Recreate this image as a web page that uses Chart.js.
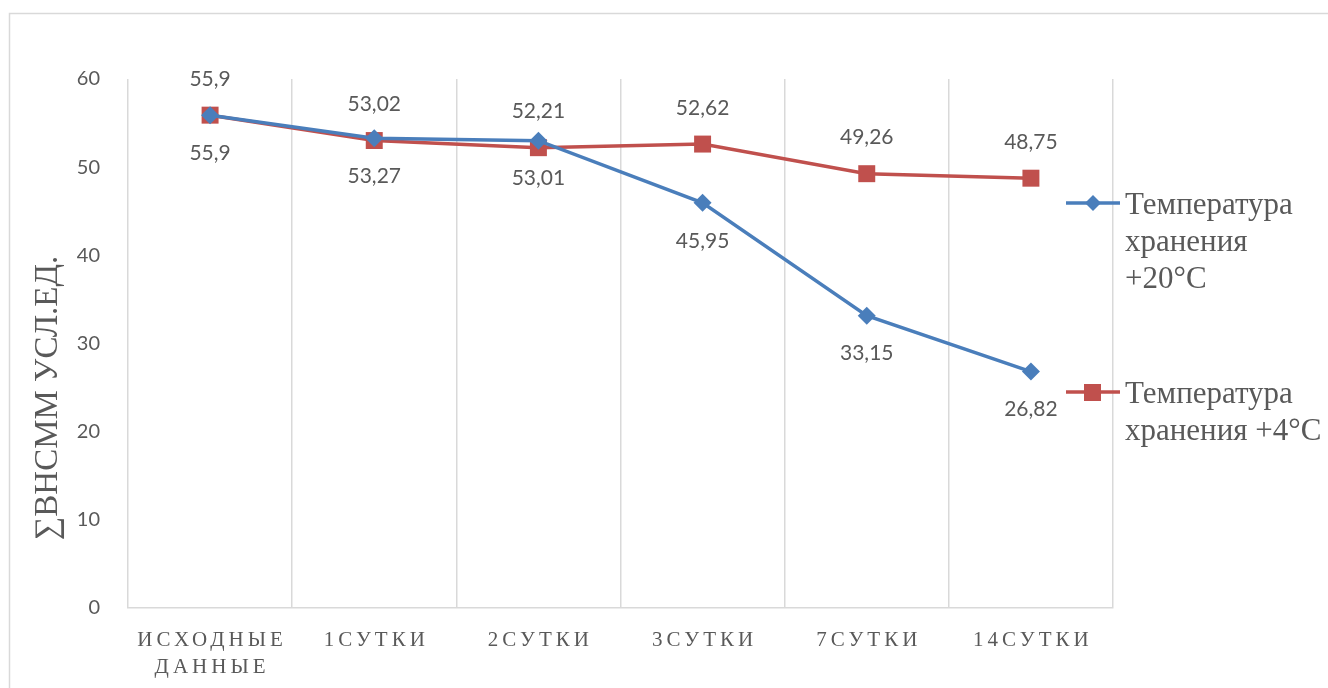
<!DOCTYPE html>
<html>
<head>
<meta charset="utf-8">
<script src="https://cdn.jsdelivr.net/npm/chart.js@4.4.0/dist/chart.umd.min.js"></script>
<style>
  body { margin: 0; background: #fff; }
  #wrap { width: 1328px; height: 688px; position: relative; }
</style>
</head>
<body>
<div id="wrap"><canvas id="grafico"></canvas></div>
<script>
// категории по оси X
const categories = [['ИСХОДНЫЕ', 'ДАННЫЕ'], '1СУТКИ', '2СУТКИ', '3СУТКИ', '7СУТКИ', '14СУТКИ'];

// названия серий (по строкам, как в легенде)
const seriesNames = [
    ['Температура', 'хранения', '+20°C'],
    ['Температура', 'хранения +4°C']
];

// значения ∑ВНСММ
const temp20 = [55.9, 53.27, 53.01, 45.95, 33.15, 26.82];
const temp4 = [55.9, 53.02, 52.21, 52.62, 49.26, 48.75];

// деления оси Y
const yTicks = [0, 10, 20, 30, 40, 50, 60];
const yTitle = '∑ВНСММ УСЛ.ЕД.';

const gray = '#595959';
const gridColor = '#d9d9d9';

function fmt(v) {
    return String(v).replace('.', ',');
}

// рамка вокруг всей диаграммы
const framePlugin = {
    id: 'frame',
    beforeDraw(chart) {
        const ctx = chart.ctx;
        ctx.save();
        ctx.strokeStyle = gridColor;
        ctx.lineWidth = 1.5;
        ctx.strokeRect(9.5, 13.5, 1330, 700);
        ctx.restore();
    }
};

// подписи оси X с разрядкой + заголовок оси Y
const axisTextPlugin = {
    id: 'axisText',
    afterDraw(chart) {
        const ctx = chart.ctx;
        const sx = chart.scales.x;
        ctx.save();
        ctx.font = '21px "Liberation Serif"';
        ctx.fillStyle = gray;
        ctx.textAlign = 'center';
        ctx.textBaseline = 'middle';
        ctx.letterSpacing = '4px';
        categories.forEach((c, i) => {
            const lines = Array.isArray(c) ? c : [c];
            const x = sx.getPixelForValue(i) + 2;
            lines.forEach((t, j) => ctx.fillText(t, x, sx.top + 32 + j * 27));
        });
        ctx.restore();

        // заголовок оси Y (в оригинале смещён ниже центра)
        ctx.save();
        ctx.translate(48, 398);
        ctx.rotate(-Math.PI / 2);
        ctx.font = '33px "Liberation Serif"';
        ctx.fillStyle = gray;
        ctx.textAlign = 'center';
        ctx.textBaseline = 'middle';
        ctx.fillText(yTitle, 0, 0);
        ctx.restore();
    }
};

// подписи данных: синяя серия снизу, красная сверху
const dataLabelsPlugin = {
    id: 'dataLabels',
    afterDatasetsDraw(chart) {
        const ctx = chart.ctx;
        ctx.save();
        ctx.font = '21px Lato';
        ctx.fillStyle = gray;
        ctx.textAlign = 'center';
        ctx.textBaseline = 'middle';
        chart.data.datasets.forEach((ds, di) => {
            const meta = chart.getDatasetMeta(di);
            meta.data.forEach((pt, i) => {
                const dy = di === 0 ? 38 : -36;
                ctx.fillText(fmt(ds.data[i]), pt.x, pt.y + dy);
            });
        });
        ctx.restore();
    }
};

// легенда справа с переносом строк
const legendPlugin = {
    id: 'sideLegend',
    afterDraw(chart) {
        const ctx = chart.ctx;
        const tops = [203, 392];
        ctx.save();
        chart.data.datasets.forEach((ds, di) => {
            const y = tops[di];
            ctx.strokeStyle = ds.borderColor;
            ctx.lineWidth = 3.5;
            ctx.beginPath();
            ctx.moveTo(1066, y);
            ctx.lineTo(1120, y);
            ctx.stroke();
            ctx.fillStyle = ds.borderColor;
            ctx.beginPath();
            if (ds.pointStyle === 'rectRot') {
                ctx.moveTo(1093, y - 8);
                ctx.lineTo(1101, y);
                ctx.lineTo(1093, y + 8);
                ctx.lineTo(1085, y);
                ctx.closePath();
            } else {
                ctx.rect(1084, y - 8, 17, 17);
            }
            ctx.fill();
            ctx.font = '31px "Liberation Serif"';
            ctx.fillStyle = gray;
            ctx.textAlign = 'left';
            ctx.textBaseline = 'middle';
            seriesNames[di].forEach((t, j) => ctx.fillText(t, 1125, y + 3 + j * 37));
        });
        ctx.restore();
    }
};

const ctx = document.getElementById('grafico').getContext('2d');

new Chart(ctx, {
    type: 'line',
    data: {
        labels: categories,
        datasets: [{
            label: seriesNames[0].join(' '),
            data: temp20,
            borderColor: '#4A7EBB',
            backgroundColor: '#4A7EBB',
            borderWidth: 3.5,
            pointStyle: 'rectRot',
            pointRadius: 9,
            pointBorderWidth: 0,
            tension: 0
        }, {
            label: seriesNames[1].join(' '),
            data: temp4,
            borderColor: '#C0504D',
            backgroundColor: '#C0504D',
            borderWidth: 3.5,
            pointStyle: 'rect',
            pointRadius: 12,
            pointBorderWidth: 0,
            tension: 0
        }]
    },
    options: {
        responsive: true,
        maintainAspectRatio: false,
        animation: false,
        layout: { padding: { top: 79, right: 215, bottom: 0, left: 0 } },
        plugins: {
            legend: { display: false },
            tooltip: { enabled: false }
        },
        scales: {
            x: {
                type: 'category',
                offset: true,
                grid: { offset: true, color: gridColor, lineWidth: 1.5, drawTicks: false },
                border: { color: gridColor, width: 1.5 },
                ticks: { display: false },
                afterFit: s => { s.height = 80; }
            },
            y: {
                min: 0,
                max: 60,
                afterBuildTicks: s => { s.ticks = yTicks.map(v => ({ value: v })); },
                grid: { display: false },
                border: { display: false },
                ticks: { color: gray, font: { family: 'Lato', size: 20 }, padding: 20 },
                afterFit: s => { s.width = 128; }
            }
        }
    },
    plugins: [framePlugin, axisTextPlugin, dataLabelsPlugin, legendPlugin]
});
</script>
</body>
</html>
